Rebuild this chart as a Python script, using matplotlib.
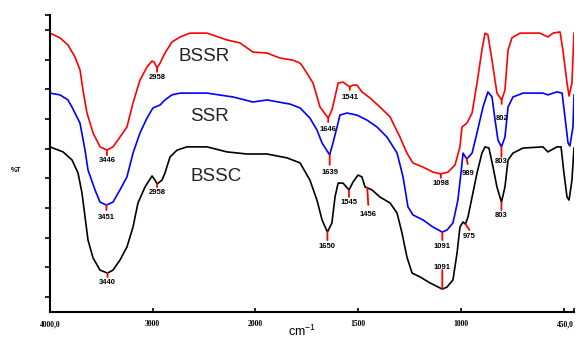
import numpy as np
import matplotlib
matplotlib.use('Agg')
import matplotlib.pyplot as plt

# ---------------- data (wavenumber cm-1, %T arbitrary) ----------------
wn_bssr = [4000, 3903, 3825, 3757, 3708, 3679, 3640, 3581, 3513, 3446,
           3387, 3319, 3251, 3192, 3124, 3056, 3007, 2988, 2958, 2929,
           2881, 2813, 2735, 2637, 2472, 2277, 2151, 2024, 1944, 1881,
           1817, 1783, 1769, 1720, 1686, 1646, 1628, 1613, 1598, 1574,
           1541, 1525, 1506, 1482, 1443, 1394, 1345, 1297, 1263, 1234,
           1185, 1136, 1098, 1063, 1029, 1005, 995, 971, 946, 922,
           898, 883, 869, 849, 825, 802, 786, 771, 752, 713,
           616, 577, 552, 518, 504, 484, 474, 460, 450]
t_bssr = [93.9, 92.3, 89.9, 85.9, 81.5, 74.7, 67.0, 60.3, 55.6, 54.5,
          55.6, 58.9, 62.3, 70.4, 78.1, 82.5, 84.5, 84.2, 82.2, 83.8,
          87.2, 90.9, 92.6, 93.9, 93.9, 91.6, 90.6, 87.5, 87.2, 85.5,
          84.8, 83.8, 82.5, 77.1, 69.0, 65.3, 68.0, 72.4, 77.1, 77.4,
          75.8, 76.4, 76.4, 74.1, 72.1, 69.0, 65.7, 58.9, 53.5, 50.2,
          48.8, 47.1, 46.5, 47.1, 49.5, 55.6, 62.3, 63.6, 67.0, 77.1,
          88.2, 93.9, 93.3, 84.8, 73.7, 71.4, 74.7, 88.2, 92.3, 93.9,
          93.9, 92.6, 93.9, 94.3, 88.2, 77.1, 72.7, 77.1, 93.9]

wn_ssr = [4000, 3903, 3825, 3786, 3708, 3659, 3630, 3562, 3513, 3451,
          3387, 3319, 3251, 3192, 3124, 3056, 2998, 2929, 2881, 2813,
          2735, 2472, 2219, 2024, 1944, 1832, 1783, 1735, 1701, 1676,
          1639, 1623, 1603, 1589, 1555, 1506, 1457, 1409, 1360, 1311,
          1282, 1258, 1234, 1185, 1136, 1091, 1068, 1039, 1015, 1000,
          990, 972, 946, 922, 893, 869, 849, 834, 820, 803,
          786, 771, 747, 698, 601, 577, 533, 508, 494, 479,
          470, 455, 450]
t_ssr = [73.7, 73.1, 71.4, 69.0, 63.6, 54.5, 47.8, 41.1, 37.0, 36.0,
         37.0, 41.1, 45.5, 53.5, 60.3, 65.3, 68.7, 69.7, 71.4, 73.1,
         73.7, 73.7, 72.4, 70.7, 71.4, 70.0, 68.7, 65.3, 61.3, 56.9,
         52.9, 56.9, 62.3, 66.3, 67.0, 66.3, 64.6, 62.3, 58.9, 53.5,
         45.5, 35.4, 32.7, 31.0, 28.6, 26.9, 27.6, 30.0, 37.7, 46.8,
         53.5, 51.5, 53.5, 60.3, 69.0, 74.1, 72.4, 64.6, 57.9, 55.6,
         58.9, 69.0, 72.4, 73.7, 73.7, 73.1, 74.1, 73.7, 65.7, 56.9,
         55.9, 62.3, 73.1]

wn_bssc = [4000, 3873, 3786, 3727, 3689, 3659, 3630, 3581, 3513, 3440,
           3387, 3319, 3251, 3192, 3144, 3075, 3007, 2978, 2958, 2910,
           2881, 2832, 2764, 2667, 2472, 2277, 2083, 1944, 1847, 1783,
           1735, 1701, 1676, 1650, 1628, 1613, 1598, 1574, 1545, 1525,
           1501, 1482, 1467, 1456, 1433, 1394, 1345, 1311, 1287, 1263,
           1238, 1199, 1151, 1091, 1068, 1039, 1019, 1005, 990, 978,
           966, 946, 922, 898, 883, 864, 844, 825, 803, 786,
           771, 747, 698, 601, 577, 533, 513, 499, 484, 474,
           460, 450]
t_bssc = [55.6, 53.9, 51.2, 46.8, 40.1, 32.0, 24.2, 18.2, 14.1, 13.1,
          14.1, 17.5, 21.9, 28.6, 36.7, 42.1, 45.8, 44.4, 43.1, 44.4,
          46.8, 52.2, 54.5, 55.6, 55.6, 53.9, 53.2, 53.2, 51.9, 50.2,
          44.4, 37.7, 31.0, 26.9, 30.0, 38.7, 43.4, 43.4, 41.1, 43.8,
          46.1, 45.5, 42.1, 41.8, 41.1, 38.7, 36.7, 33.3, 26.6, 18.5,
          13.1, 11.8, 9.8, 7.7, 8.4, 10.8, 19.9, 28.6, 30.3, 29.6,
          32.0, 38.7, 46.8, 53.5, 55.6, 55.2, 48.8, 42.1, 37.0, 42.1,
          51.2, 53.5, 55.2, 55.6, 53.9, 55.6, 55.6, 46.8, 38.7, 37.7,
          44.4, 55.2]

series_names = ['BSSR', 'SSR', 'BSSC']

peaks_bssr = [3446, 2958, 1646, 1541, 1098, 802]
peak_labels_bssr = ['3446', '2958', '1646', '1541', '1098', '802']
peaks_ssr = [3451, 1639, 972, 1091, 803]
peak_labels_ssr = ['3451', '1639', '989', '1091', '803']
peaks_bssc = [3440, 2958, 1650, 1545, 1456, 978, 1091, 803]
peak_labels_bssc = ['3440', '2958', '1650', '1545', '1456', '975', '1091', '803']

xtick_vals = [4000, 3000, 2000, 1500, 1000, 500, 450]
xtick_labels = ['4000,0', '3000', '2000', '1500', '1000', '', '450,0']

# ---------------- layout (pixel offsets of marker line / label) ----------------
# (line_len, label_offset, dx)
lay_bssr = [(5, 10, 0), (4, 10, 0), (4, 11, 0), (3, 11, 0), (4, 10, 0), (4, 19, 0)]
lay_ssr = [(5, 12, 0), (10, 18, 0), (5, 14, 1), (8, 14, 0), (10, 15, 0)]
lay_bssc = [(4, 9, 0), (3, 9, 0), (8, 14, 0), (7, 13, 0), (17, 27, 1),
            (6, 12, 4), (-19, -22, 0), (8, 13, 0)]


def fwd(x):
    x = np.asarray(x, dtype=float)
    return np.where(x > 2000, 2000 + (x - 2000) / 2.0, x)


def inv(t):
    t = np.asarray(t, dtype=float)
    return np.where(t > 2000, 2000 + (t - 2000) * 2.0, t)


W, H = 582, 340
fig = plt.figure(figsize=(W / 100, H / 100), dpi=100)
ax = fig.add_axes([50 / W, (H - 312) / H, 524 / W, 297 / H])
ax.set_xscale('function', functions=(fwd, inv))
ax.set_xlim(4000, 450)
ax.set_ylim(0, 100)

colors = ['#ff0000', '#0000ff', '#000000']
all_wn = [wn_bssr, wn_ssr, wn_bssc]
all_t = [t_bssr, t_ssr, t_bssc]
all_peaks = [peaks_bssr, peaks_ssr, peaks_bssc]
all_plabels = [peak_labels_bssr, peak_labels_ssr, peak_labels_bssc]
all_lay = [lay_bssr, lay_ssr, lay_bssc]

for wn, t, c in zip(all_wn, all_t, colors):
    ax.plot(wn, t, color=c, lw=1.2, solid_joinstyle='round', zorder=2)

for wn, t, pk, pl, lay in zip(all_wn, all_t, all_peaks, all_plabels, all_lay):
    wa = np.asarray(wn)[::-1]
    ta = np.asarray(t)[::-1]
    for p, lbl, (L, T, dx) in zip(pk, pl, lay):
        yc = float(np.interp(p, wa, ta))
        ax.annotate('', xy=(p, yc), xytext=(dx, -L), textcoords='offset pixels',
                    arrowprops=dict(arrowstyle='-', color='#ff0000', lw=1.3,
                                    shrinkA=0, shrinkB=0), zorder=3)
        ax.annotate(lbl, xy=(p, yc), xytext=(dx, -T), textcoords='offset pixels',
                    ha='center', va='center', fontsize=5.5, fontweight='bold',
                    family='Liberation Sans', color='black', zorder=4)

# series names
name_pos = [(0.294, 0.859), (0.305, 0.657), (0.317, 0.455)]
for name, (px, py) in zip(series_names, name_pos):
    ax.text(px, py, name, transform=ax.transAxes, ha='center', va='center',
            fontsize=13.5, family='Liberation Sans', color='#222222')

# axes styling
for s in ['top', 'right']:
    ax.spines[s].set_visible(False)
for s in ['left', 'bottom']:
    ax.spines[s].set_linewidth(1.5)

ax.set_xticks(xtick_vals)
ax.set_xticklabels(xtick_labels)
ax.xaxis.set_minor_locator(matplotlib.ticker.NullLocator())
ax.tick_params(axis='x', direction='in', length=3, width=1.2, pad=6)
for lab in ax.get_xticklabels():
    lab.set_fontfamily('Liberation Serif')
    lab.set_fontweight('bold')
    lab.set_fontsize(5.5)
ax.get_xticklabels()[-1].set_horizontalalignment('right')

ax.set_yticks([5, 15, 25, 35, 45, 55, 65, 75, 85, 95, 100])
ax.set_yticklabels([])
ax.tick_params(axis='y', direction='out', length=3.3, width=1.2)

fig.text(16 / W, 1 - 170 / H, '%T', ha='center', va='center', fontsize=5,
         fontweight='bold', family='Liberation Sans')
fig.text(302 / W, 1 - 339 / H, r'cm$^{\mathregular{-1}}$', ha='center', va='bottom',
         fontsize=9, family='Liberation Sans')

fig.savefig('out.png', dpi=100)
